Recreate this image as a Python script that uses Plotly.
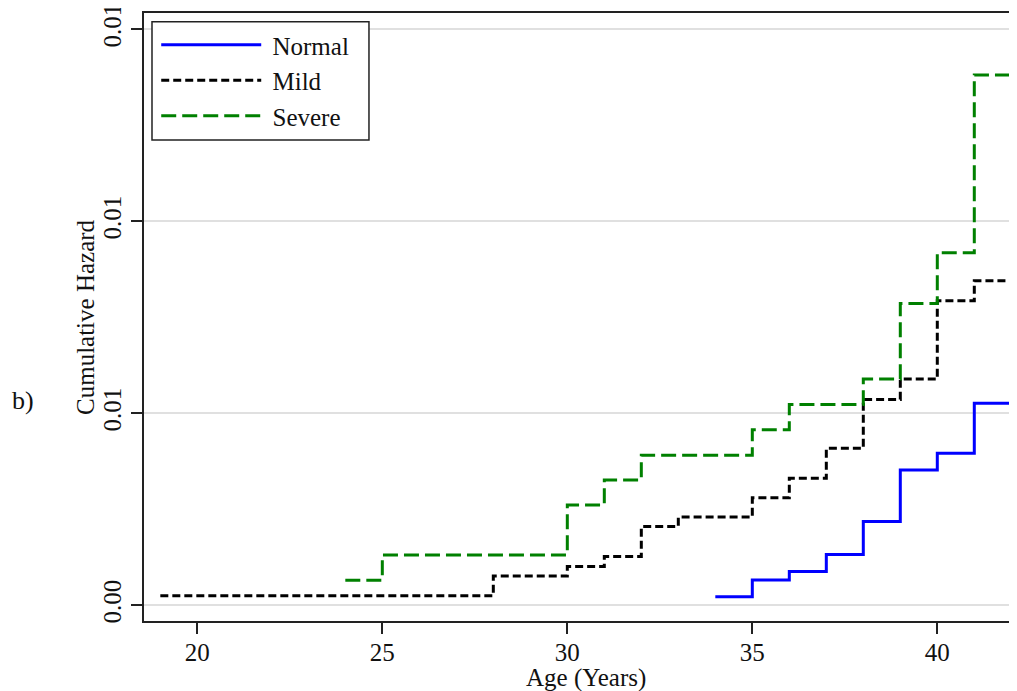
import plotly.graph_objects as go

# Data (step functions, value changes at integer ages)
normal_age = [34, 35, 36, 37, 38, 39, 40, 41, 42]
normal_haz = [0.00022, 0.00066, 0.00088, 0.00132, 0.00218, 0.00352, 0.00396, 0.00526, 0.00526]

mild_age = [19, 28, 30, 31, 32, 33, 35, 36, 37, 38, 39, 40, 41, 42]
mild_haz = [0.00025, 0.00076, 0.00101, 0.00127, 0.00205, 0.00230, 0.00280, 0.00331,
            0.00409, 0.00536, 0.00589, 0.00793, 0.00845, 0.00865]

severe_age = [24, 25, 30, 31, 32, 35, 36, 38, 39, 40, 41, 42]
severe_haz = [0.00065, 0.00131, 0.00261, 0.00326, 0.00391, 0.00457, 0.00523, 0.00589,
              0.00786, 0.00918, 0.01381, 0.01381]

series_names = ["Normal", "Mild", "Severe"]

x_ticks = [20, 25, 30, 35, 40]
y_ticks = [0.0, 0.005, 0.010, 0.015]
y_ticktext = ["0.00", "0.01", "0.01", "0.01"]

FONT = "Liberation Serif"
NB = "\u00a0"

fig = go.Figure()
fig.add_trace(go.Scatter(x=normal_age, y=normal_haz, mode="lines", name=NB + series_names[0],
                         line=dict(shape="hv", color="#0000ff", width=3)))
fig.add_trace(go.Scatter(x=mild_age, y=mild_haz, mode="lines", name=NB + series_names[1],
                         line=dict(shape="hv", color="#000000", width=3, dash="8px,4px")))
fig.add_trace(go.Scatter(x=severe_age, y=severe_haz, mode="lines", name=NB + series_names[2],
                         line=dict(shape="hv", color="#008000", width=3, dash="15px,6px")))

# The page body has an 8px margin, so the figure is sized to fill the rest of the window
fig.update_layout(
    width=1009, height=683,
    margin=dict(l=136, r=0, t=5, b=70, pad=0, autoexpand=False),
    paper_bgcolor="white", plot_bgcolor="white",
    font=dict(family=FONT, size=25, color="#111111"),
    showlegend=True,
    legend=dict(
        x=0.014, y=0.985, xanchor="left", yanchor="top",
        bgcolor="rgba(0,0,0,0)", borderwidth=0,
        font=dict(family=FONT, size=25, color="#111111"),
        itemwidth=100, tracegroupgap=0,
    ),
    xaxis=dict(
        range=[18.559, 42.154], tickvals=x_ticks, ticks="outside", ticklen=11,
        tickwidth=1.5, tickcolor="#222222", showline=True, linecolor="#222222",
        linewidth=1.5, mirror=True, showgrid=False, zeroline=False,
        automargin=False, ticklabelstandoff=-3, ticklabeloverflow="allow",
        tickfont=dict(family=FONT, size=25),
    ),
    yaxis=dict(
        range=[-0.000409, 0.015424], tickvals=y_ticks, ticktext=y_ticktext,
        ticks="outside", ticklen=11, tickwidth=1.5, tickcolor="#222222",
        showline=True, linecolor="#222222", linewidth=1.5, showgrid=True,
        gridcolor="#e0e0e0", gridwidth=2, zeroline=False, tickangle=-90,
        automargin=False, ticklabeloverflow="allow",
        tickfont=dict(family=FONT, size=25),
    ),
    shapes=[dict(type="rect", xref="paper", yref="paper", x0=0.00916, x1=0.2577,
                 y0=0.791, y1=0.9857, line=dict(color="#222222", width=1.5),
                 fillcolor="white", layer="above")],
    annotations=[
        dict(text="b)", xref="paper", yref="paper", x=-0.1535, y=0.362,
             xanchor="left", yanchor="middle", showarrow=False,
             font=dict(family=FONT, size=26, color="#111111")),
        dict(text="Age (Years)", xref="paper", yref="paper", x=0.506, y=-0.0938,
             xanchor="center", yanchor="middle", showarrow=False,
             font=dict(family=FONT, size=25, color="#111111")),
        dict(text="Cumulative Hazard", xref="paper", yref="paper", x=-0.0676, y=0.5,
             xanchor="center", yanchor="middle", showarrow=False, textangle=-90,
             font=dict(family=FONT, size=25, color="#111111")),
    ],
)

fig.write_html("out.html")
